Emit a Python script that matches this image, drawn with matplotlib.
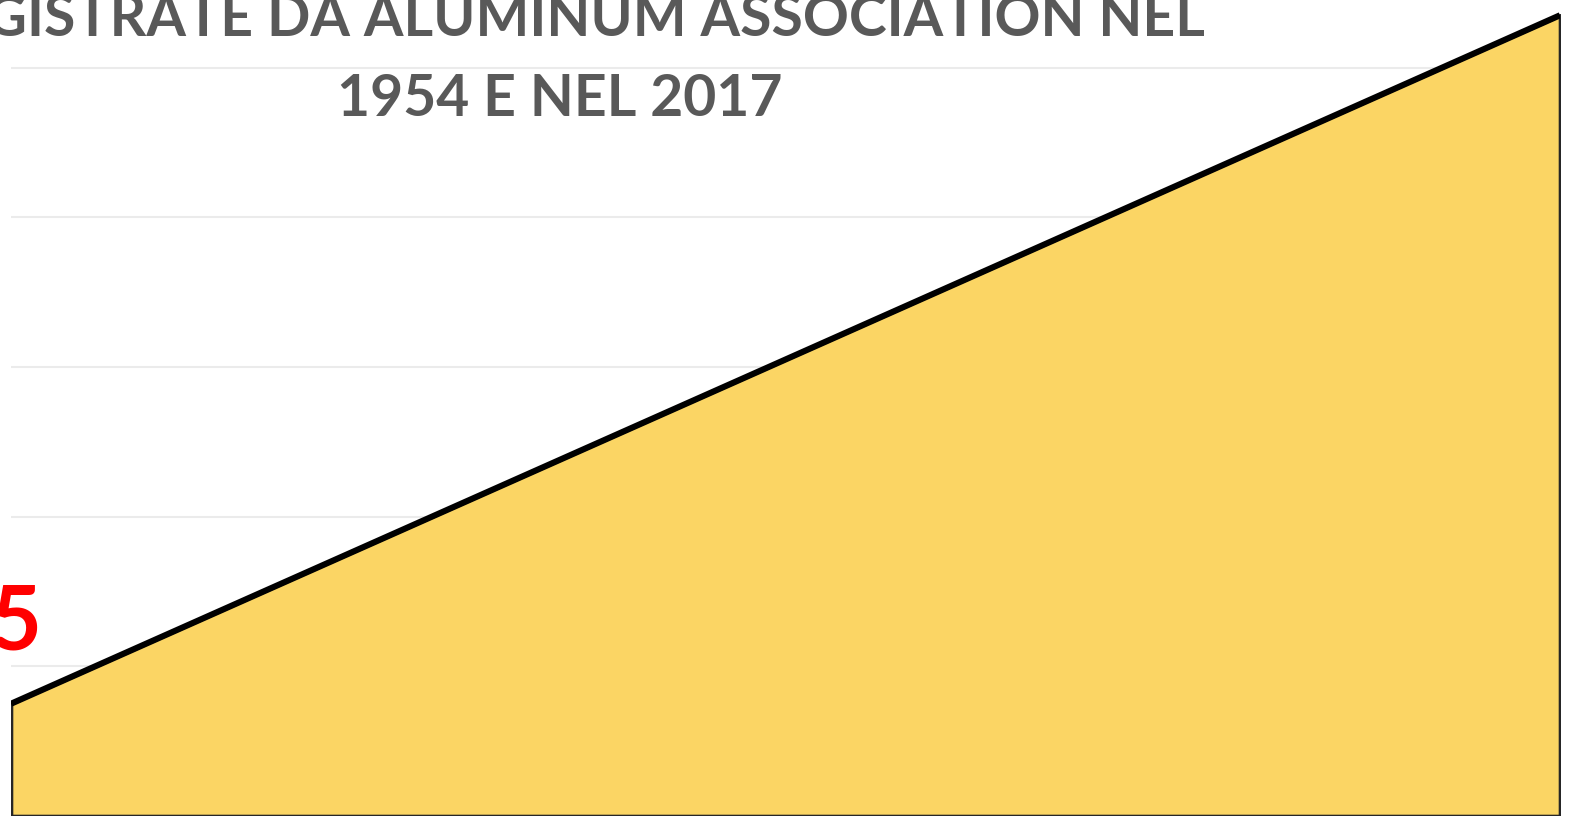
import matplotlib
matplotlib.use("Agg")
from matplotlib import pyplot as plt
import numpy as np

# data
years = ["1954", "2017"]
alloys = [75, 535]
yticks = [0, 100, 200, 300, 400, 500, 600]
title = "NUMERO DI LEGHE\nREGISTRATE DA ALUMINUM ASSOCIATION NEL\n1954 E NEL 2017"

plt.rcParams['font.family'] = ['Lato', 'DejaVu Sans']

W, H = 1571, 816
fig = plt.figure(figsize=(W / 100, H / 100), dpi=100)
fig.patch.set_facecolor('white')

# plot area runs past the top of the canvas (cropped picture)
px_per_unit = 1.4967
ax = fig.add_axes([11 / W, 0 / H, 1549 / W, 600 * px_per_unit / H])

x = np.arange(len(years))
ax.fill_between(x, 0, alloys, facecolor='#FBD564', edgecolor='#262626', linewidth=2.6, zorder=2)
ax.plot(x, alloys, color='black', linewidth=4.4, solid_capstyle='butt', zorder=3)

for xi, v in zip(x, alloys):
    ax.annotate(str(v), (xi, v), xytext=(-14, 28), textcoords='offset points',
                ha='center', va='bottom', color='#FF0000', fontsize=64, fontweight='bold',
                annotation_clip=False)

ax.set_xlim(0, 1)
ax.set_ylim(0, 600)
ax.set_yticks(yticks)
ax.set_xticks(x)
ax.set_xticklabels(years)
ax.grid(axis='y', color='#EBEBEB', linewidth=1.5, zorder=0)
ax.tick_params(left=False, bottom=False, labelleft=False, labelbottom=False)
for s in ax.spines.values():
    s.set_visible(False)
ax.set_axisbelow(True)

fig.text(560 / W, 1 - 126 / H, title, ha='center', va='bottom', ma='center',
         fontsize=41, fontweight='bold', color='#595959', linespacing=1.62)

fig.savefig('out.png', dpi=100)
